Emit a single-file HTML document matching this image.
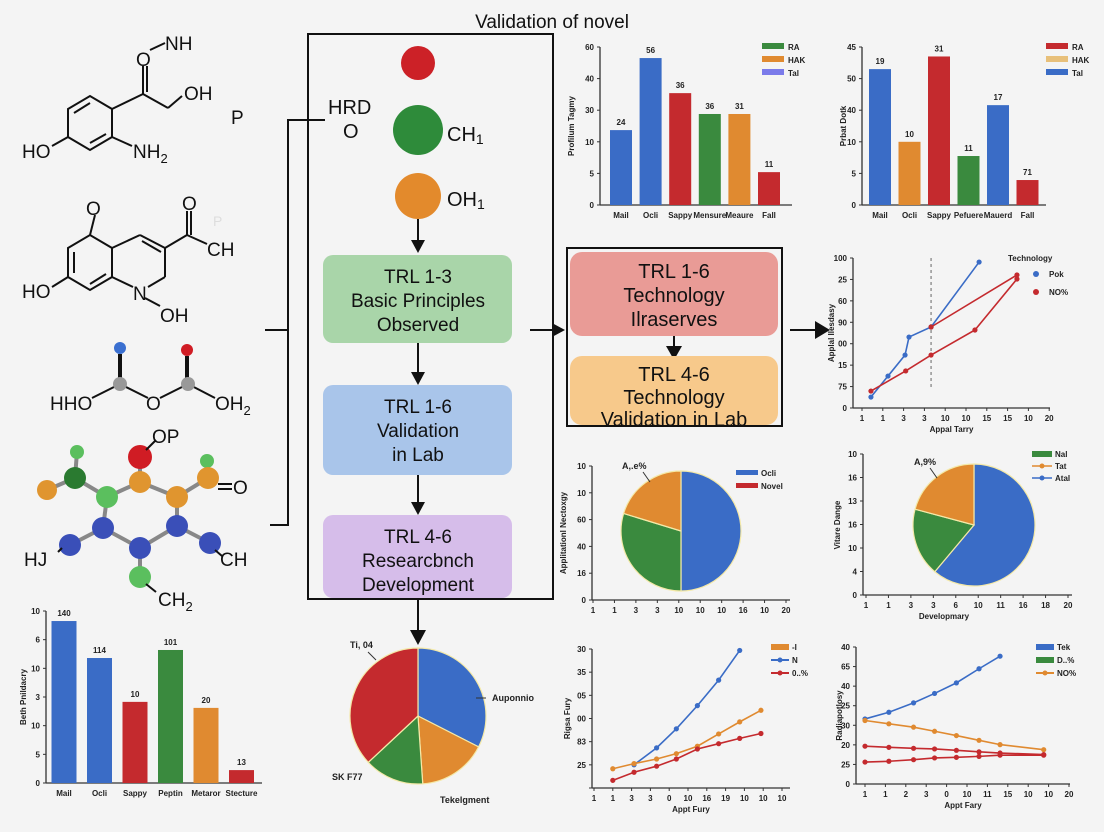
<!DOCTYPE html>
<html><head><meta charset="utf-8"><style>
html,body{margin:0;padding:0;background:#f4f4f4;}
svg{display:block;font-family:"Liberation Sans",sans-serif;}
</style></head><body>
<svg id="s" width="1104" height="832" viewBox="0 0 1104 832" xmlns="http://www.w3.org/2000/svg">
<rect width="1104" height="832" fill="#f4f4f4"/>
<text x="552" y="28" text-anchor="middle" font-size="19" fill="#111">Validation of novel</text>

<g stroke="#111" stroke-width="2" fill="none">
<polygon points="68,109 90,96 112,109 112,137 90,150 68,137"/>
<line x1="74" y1="113" x2="90" y2="103"/><line x1="106" y1="134" x2="90" y2="143"/>
<line x1="112" y1="109" x2="143" y2="94"/><line x1="143" y1="94" x2="143" y2="66"/><line x1="147" y1="92" x2="147" y2="66"/>
<line x1="150" y1="50" x2="165" y2="43"/><line x1="143" y1="94" x2="168" y2="108"/><line x1="168" y1="108" x2="182" y2="96"/>
<line x1="68" y1="137" x2="52" y2="146"/><line x1="112" y1="137" x2="132" y2="146"/>
</g>
<g font-size="19" fill="#111">
<text x="22" y="158">HO</text><text x="133" y="158">NH<tspan font-size="13" dy="5">2</tspan></text>
<text x="136" y="66">O</text><text x="165" y="50">NH</text><text x="184" y="100">OH</text><text x="231" y="124">P</text>
</g>

<g stroke="#111" stroke-width="2" fill="none">
<polygon points="68,248 90,235 112,248 112,277 90,290 68,277"/>
<line x1="74" y1="252" x2="74" y2="273"/><line x1="90" y1="284" x2="106" y2="274"/>
<line x1="112" y1="248" x2="140" y2="235"/><line x1="140" y1="235" x2="165" y2="248"/><line x1="142" y1="241" x2="161" y2="252"/>
<line x1="165" y1="248" x2="165" y2="277"/><line x1="165" y1="277" x2="148" y2="287"/><line x1="112" y1="277" x2="133" y2="287"/>
<line x1="90" y1="235" x2="95" y2="215"/><line x1="165" y1="248" x2="187" y2="235"/><line x1="187" y1="235" x2="187" y2="211"/><line x1="191" y1="235" x2="191" y2="211"/>
<line x1="187" y1="235" x2="207" y2="244"/><line x1="68" y1="277" x2="52" y2="287"/><line x1="145" y1="298" x2="160" y2="306"/>
</g>
<g font-size="19" fill="#111">
<text x="86" y="215">O</text><text x="22" y="298">HO</text><text x="133" y="300">N</text><text x="160" y="322">OH</text>
<text x="182" y="210">O</text><text x="207" y="256">CH</text><text x="213" y="226" font-size="14" fill="#ddd">P</text>
</g>

<g>
<line x1="120" y1="354" x2="120" y2="378" stroke="#111" stroke-width="4"/><line x1="187" y1="356" x2="187" y2="378" stroke="#111" stroke-width="4"/>
<polyline points="92,398 120,384 148,398" stroke="#111" stroke-width="2" fill="none"/>
<polyline points="160,398 188,384 215,398" stroke="#111" stroke-width="2" fill="none"/>
<circle cx="120" cy="348" r="6" fill="#3a6fd0"/><circle cx="187" cy="350" r="6" fill="#d01c24"/>
<circle cx="120" cy="384" r="7" fill="#999"/><circle cx="188" cy="384" r="7" fill="#999"/>
<g font-size="19" fill="#111"><text x="50" y="410">HHO</text><text x="146" y="410">O</text><text x="215" y="410">OH<tspan font-size="13" dy="5">2</tspan></text></g>
</g>

<g>
<g stroke="#888" stroke-width="4">
<line x1="47" y1="490" x2="75" y2="478"/><line x1="75" y1="478" x2="107" y2="497"/><line x1="107" y1="497" x2="140" y2="482"/>
<line x1="140" y1="482" x2="177" y2="497"/><line x1="177" y1="497" x2="208" y2="478"/><line x1="107" y1="497" x2="103" y2="528"/>
<line x1="177" y1="497" x2="177" y2="526"/><line x1="103" y1="528" x2="70" y2="545"/><line x1="103" y1="528" x2="140" y2="548"/>
<line x1="140" y1="548" x2="177" y2="526"/><line x1="177" y1="526" x2="210" y2="543"/><line x1="140" y1="548" x2="140" y2="577"/>
<line x1="140" y1="457" x2="140" y2="482"/><line x1="75" y1="478" x2="77" y2="452"/>
</g>
<circle cx="77" cy="452" r="7" fill="#5bbf5e"/><circle cx="207" cy="461" r="7" fill="#5bbf5e"/>
<circle cx="47" cy="490" r="10" fill="#e0952f"/><circle cx="75" cy="478" r="11" fill="#2a7a30"/>
<circle cx="140" cy="457" r="12" fill="#d01c24"/><circle cx="140" cy="482" r="11" fill="#e0952f"/>
<circle cx="107" cy="497" r="11" fill="#5bbf5e"/><circle cx="177" cy="497" r="11" fill="#e0952f"/><circle cx="208" cy="478" r="11" fill="#e0952f"/>
<circle cx="103" cy="528" r="11" fill="#3a4fb8"/><circle cx="177" cy="526" r="11" fill="#3a4fb8"/><circle cx="70" cy="545" r="11" fill="#3a4fb8"/>
<circle cx="140" cy="548" r="11" fill="#3a4fb8"/><circle cx="210" cy="543" r="11" fill="#3a4fb8"/><circle cx="140" cy="577" r="11" fill="#5bbf5e"/>
<g stroke="#111" stroke-width="2" fill="none"><line x1="146" y1="450" x2="156" y2="440"/><line x1="218" y1="484" x2="232" y2="484"/><line x1="218" y1="489" x2="232" y2="489"/><line x1="58" y1="552" x2="62" y2="548"/><line x1="215" y1="550" x2="222" y2="556"/><line x1="146" y1="584" x2="156" y2="592"/></g>
<g font-size="19" fill="#111"><text x="152" y="443">OP</text><text x="233" y="494">O</text><text x="24" y="566">HJ</text><text x="220" y="566">CH</text><text x="158" y="606">CH<tspan font-size="13" dy="5">2</tspan></text></g>
</g>

<g stroke="#111" stroke-width="2" fill="none">
<polyline points="325,120 288,120 288,525 270,525"/><line x1="265" y1="330" x2="288" y2="330"/>
</g>

<g>
<rect x="308" y="34" width="245" height="565" fill="none" stroke="#111" stroke-width="2"/>
<circle cx="418" cy="63" r="17" fill="#cc2127"/>
<circle cx="418" cy="130" r="25" fill="#2e8b3a"/>
<circle cx="418" cy="196" r="23" fill="#e38a2c"/>
<g font-size="20" fill="#111"><text x="328" y="114">HRD</text><text x="343" y="138">O</text><text x="447" y="141">CH<tspan font-size="14" dy="3">1</tspan></text><text x="447" y="206">OH<tspan font-size="14" dy="3">1</tspan></text></g>
<g stroke="#111" stroke-width="2"><line x1="418" y1="219" x2="418" y2="240"/><line x1="418" y1="343" x2="418" y2="372"/><line x1="418" y1="475" x2="418" y2="502"/><line x1="418" y1="599" x2="418" y2="632"/></g>
<g fill="#111"><polygon points="411,240 425,240 418,253"/><polygon points="411,372 425,372 418,385"/><polygon points="411,502 425,502 418,515"/><polygon points="410,630 426,630 418,645"/></g>
<rect x="323" y="255" width="189" height="88" rx="10" fill="#a9d5a9"/>
<g font-size="19" fill="#111" text-anchor="middle"><text x="418" y="283">TRL 1-3</text><text x="418" y="307">Basic Principles</text><text x="418" y="331">Observed</text></g>
<rect x="323" y="385" width="189" height="90" rx="10" fill="#a9c5ea"/>
<g font-size="19" fill="#111" text-anchor="middle"><text x="418" y="413">TRL 1-6</text><text x="418" y="437">Validation</text><text x="418" y="461">in Lab</text></g>
<rect x="323" y="515" width="189" height="83" rx="10" fill="#d6bdea"/>
<g font-size="19" fill="#111" text-anchor="middle"><text x="418" y="543">TRL 4-6</text><text x="418" y="567">Researcbnch</text><text x="418" y="591">Development</text></g>
</g>

<g>
<line x1="530" y1="330" x2="552" y2="330" stroke="#111" stroke-width="2"/><polygon points="552,323 552,337 565,330" fill="#111"/>
<rect x="567" y="248" width="215" height="178" fill="none" stroke="#111" stroke-width="2"/>
<rect x="570" y="252" width="208" height="84" rx="12" fill="#e99b96"/>
<g font-size="20" fill="#111" text-anchor="middle"><text x="674" y="278">TRL 1-6</text><text x="674" y="302">Technology</text><text x="674" y="326">Ilraserves</text></g>
<line x1="674" y1="336" x2="674" y2="348" stroke="#111" stroke-width="2"/><polygon points="666,346 682,346 674,360" fill="#111"/>
<rect x="570" y="356" width="208" height="69" rx="12" fill="#f7c98b"/>
<g font-size="20" fill="#111" text-anchor="middle"><text x="674" y="381">TRL 4-6</text><text x="674" y="404">Technology</text><text x="674" y="426">Validation in Lab</text></g>
<line x1="790" y1="330" x2="815" y2="330" stroke="#111" stroke-width="2"/><polygon points="815,321 815,339 830,330" fill="#111"/>
</g>
<g id="charts"></g>
</svg>
<script>
// ---- chart data ----
const barCatsA = ["Mail","Ocli","Sappy","Mensure","Meaure","Fall"];
const barValsA = [23.7,46.5,35.4,28.8,28.8,10.4];
const barLblA = ["24","56","36","36","31","11"];
const barTicksA = ["0","5","10","30","40","60"];
const barCatsB = ["Mail","Ocli","Sappy","Pefuere","Mauerd","Fall"];
const barValsB = [43,20,47,15.5,31.6,7.9];
const barLblB = ["19","10","31","11","17","71"];
const barTicksB = ["0","5","10","40","50","45","40"];
const barCatsC = ["Mail","Ocli","Sappy","Peptin","Metaror","Stecture"];
const barValsC = [5.65,4.36,2.83,4.64,2.62,0.45];
const barLblC = ["140","114","10","101","20","13"];
const barTicksC = ["0","5","10","3","10","6","10"];
const lineTicksX1 = ["1","1","3","3","10","10","15","15","10","20"];
const lineTicksY1 = ["0","75","15","00","90","60","25","100"];
const line1BlueX = [0.43,1.25,2.07,2.26,3.32,5.63];
const line1BlueY = [7.3,21.3,35.3,47.3,54,97.3];
const line1RedAX = [0.43,2.1,3.32,5.43,7.45];
const line1RedAY = [11.3,24.7,35.3,52,86];
const line1RedBX = [3.32,7.45];
const line1RedBY = [54,88.7];
const pieAVals = [180,107,73];
const pieBVals = [220,65,75];
const pieCVals = [117,59,51,133];
const pieTicksXA = ["1","1","3","3","10","10","10","16","10","20"];
const pieTicksYA = ["0","16","40","60","10","10"];
const pieTicksXB = ["1","1","3","3","6","10","11","16","18","20"];
const pieTicksYB = ["0","4","10","16","13","16","10"];
const line2TicksX = ["1","1","3","3","0","10","16","19","10","10","10"];
const line2TicksY = ["","25","83","00","05","35","30"];
const line2BlueX = [2.13,3.33,4.38,5.5,6.63,7.75];
const line2BlueY = [1.0,1.73,2.55,3.55,4.65,5.93];
const line2OrangeX = [1,2.13,3.33,4.38,5.5,6.63,7.75,8.88];
const line2OrangeY = [0.83,1.05,1.25,1.48,1.8,2.33,2.85,3.35];
const line2RedX = [1,2.13,3.33,4.38,5.5,6.63,7.75,8.88];
const line2RedY = [0.33,0.68,0.94,1.25,1.68,1.91,2.14,2.35];
const line3TicksX = ["1","1","2","3","0","10","11","15","10","10","20"];
const line3TicksY = ["0","25","20","30","25","40","65","40"];
const line3BlueX = [0,1.17,2.38,3.41,4.48,5.59,6.62];
const line3BlueY = [3.32,3.66,4.14,4.62,5.16,5.88,6.52];
const line3OrangeX = [0,1.17,2.38,3.41,4.48,5.59,6.62,8.76];
const line3OrangeY = [3.24,3.07,2.9,2.69,2.47,2.23,2.01,1.75];
const line3RedAY = [1.93,1.87,1.82,1.79,1.72,1.64,1.58,1.5];
const line3RedBY = [1.12,1.16,1.24,1.33,1.36,1.41,1.47,1.47];

const NS="http://www.w3.org/2000/svg";
const root=document.getElementById('charts');
function mk(tag,attrs,parent,txt){const e=document.createElementNS(NS,tag);for(const k in attrs)e.setAttribute(k,attrs[k]);if(txt!==undefined)e.textContent=txt;(parent||root).appendChild(e);return e;}
function grp(name){const g=mk('g',{});return g;}
function axes(g,x0,x1,y0,y1){mk('line',{x1:x0,y1:y1,x2:x0,y2:y0,stroke:'#333','stroke-width':1.3},g);mk('line',{x1:x0,y1:y0,x2:x1,y2:y0,stroke:'#333','stroke-width':1.3},g);}
function yTicks(g,x0,y0,y1,labels){const n=labels.length-1;labels.forEach((l,i)=>{const y=y0-(y0-y1)*i/n;mk('line',{x1:x0-3,y1:y,x2:x0,y2:y,stroke:'#333'},g);mk('text',{x:x0-6,y:y+3,'font-size':8,'text-anchor':'end',fill:'#222','font-weight':'bold'},g,l);});}
function xTicks(g,xa,xb,y0,labels){const n=labels.length-1;labels.forEach((l,i)=>{const x=xa+(xb-xa)*i/n;mk('line',{x1:x,y1:y0,x2:x,y2:y0+3,stroke:'#333'},g);mk('text',{x:x,y:y0+13,'font-size':8,'text-anchor':'middle',fill:'#222','font-weight':'bold'},g,l);});}
function ytitle(g,x,y,t){mk('text',{x:x,y:y,'font-size':8,'text-anchor':'middle',fill:'#222','font-weight':'bold',transform:`rotate(-90 ${x} ${y})`},g,t);}

function barChart(name,cats,vals,lbls,ticks,o){
  const g=grp(name);
  const ys=v=>o.y0-(o.y0-o.y1)*v/o.max;
  const xs=i=>o.xa+i*o.step;
  const colors=o.colors;
  axes(g,o.x0,o.x1,o.y0,o.y1);yTicks(g,o.x0,o.y0,o.y1,ticks);
  cats.forEach((c,i)=>{
    const r=mk('rect',{x:xs(i)-o.w/2,y:ys(vals[i]),width:o.w,height:o.y0-ys(vals[i]),fill:colors[i]},g);
    
    
    mk('text',{x:xs(i),y:ys(vals[i])-5,'font-size':8,'text-anchor':'middle',fill:'#222','font-weight':'bold'},g,lbls[i]);
    mk('text',{x:xs(i),y:o.y0+13,'font-size':8,'text-anchor':'middle',fill:'#222','font-weight':'bold'},g,c);
  });
  ytitle(g,o.tx,(o.y0+o.y1)/2,o.title);
  return g;
}
const B='#3a6cc6',R='#c42a2e',G='#3a8a3e',O='#e08a30';
const gA=barChart('bar-chart-top-middle',barCatsA,barValsA,barLblA,barTicksA,{x0:600,x1:792,y0:205,y1:47,max:50,xa:621,step:29.6,w:22,colors:[B,B,R,G,O,R],tx:574,title:'Profilum Tagmy'});
[['RA',G,47],['HAK',O,60],['Tal',"#7b7bea",73]].forEach(([t,c,y])=>{mk('rect',{x:762,y:y-4,width:22,height:6,fill:c},gA);mk('text',{x:788,y:y+3,'font-size':8,fill:'#222','font-weight':'bold'},gA,t);});
const gB=barChart('bar-chart-top-right',barCatsB,barValsB,barLblB,barTicksB.slice(0,6),{x0:862,x1:1046,y0:205,y1:47,max:50,xa:880,step:29.5,w:22,colors:[B,O,R,G,B,R],tx:846,title:'Prbat Dotk'});
[['RA',R,47],['HAK',"#e8c07a",60],['Tal',B,73]].forEach(([t,c,y])=>{mk('rect',{x:1046,y:y-4,width:22,height:6,fill:c},gB);mk('text',{x:1072,y:y+3,'font-size':8,fill:'#222','font-weight':'bold'},gB,t);});
barChart('bar-chart-bottom-left',barCatsC,barValsC,barLblC,barTicksC,{x0:46,x1:262,y0:783,y1:611,max:6,xa:64,step:35.5,w:25,colors:[B,B,R,G,O,R],tx:26,title:'Beth Pnildacry'});

function lineChart(name,o,ticksX,ticksY,series,legend){
  const g=grp(name);
  const xs=v=>o.xa+v*o.xstep, ys=v=>o.y0-v*o.ystep;
  axes(g,o.x0,o.x1,o.y0,o.y1);yTicks(g,o.x0,o.y0,o.y1,ticksY);xTicks(g,o.xa,o.xa+o.xstep*(ticksX.length-1),o.y0,ticksX);
  if(o.dash!==undefined){mk('line',{x1:xs(o.dash),y1:o.y1,x2:xs(o.dash),y2:o.y0-18,stroke:'#666','stroke-dasharray':'3,3'},g);}
  series.forEach(s=>{
    const pts=s.x.map((x,i)=>xs(x)+','+ys(s.y[i])).join(' ');
    const pl=mk('polyline',{points:pts,fill:'none',stroke:s.c,'stroke-width':1.6},g);
    
    
    s.x.forEach((x,i)=>mk('circle',{cx:xs(x),cy:ys(s.y[i]),r:2.6,fill:s.c},g));
  });
  ytitle(g,o.tx,(o.y0+o.y1)/2,o.ytitle);
  mk('text',{x:(o.x0+o.x1)/2,y:o.y0+24,'font-size':8,'text-anchor':'middle',fill:'#222','font-weight':'bold'},g,o.xtitle);
  legend.forEach(([t,c,y,type])=>{
    if(type==='dot'){mk('circle',{cx:o.lx+8,cy:y,r:3,fill:c},g);}
    else if(type==='bar'){mk('rect',{x:o.lx,y:y-3,width:18,height:6,fill:c},g);}
    else {mk('line',{x1:o.lx,y1:y,x2:o.lx+18,y2:y,stroke:c,'stroke-width':2},g);mk('circle',{cx:o.lx+9,cy:y,r:2.5,fill:c},g);}
    mk('text',{x:o.lx+21,y:y+3,'font-size':8,fill:'#222','font-weight':'bold'},g,t);
  });
  return g;
}
const gL1=lineChart('line-chart-right',{x0:853,x1:1050,y0:408,y1:258,xa:862,xstep:20.8,ystep:1.5,dash:3.32,tx:834,ytitle:'Applal Ilesdasy',xtitle:'Appal Tarry',lx:1028},lineTicksX1,lineTicksY1,
 [{n:'pok',c:B,x:line1BlueX,y:line1BlueY},{n:'no-a',c:R,x:line1RedAX,y:line1RedAY},{n:'no-b',c:R,x:line1RedBX,y:line1RedBY}],
 [['Pok',B,274,'dot'],['NO%',R,292,'dot']]);
mk('text',{x:1008,y:261,'font-size':8,fill:'#222','font-weight':'bold'},gL1,'Technology');
lineChart('line-chart-bottom-middle',{x0:592,x1:790,y0:788,y1:649,xa:594,xstep:18.8,ystep:23.2,tx:570,ytitle:'Rigsa Fury',xtitle:'Appt Fury',lx:771},line2TicksX,line2TicksY,
 [{n:'n',c:B,x:line2BlueX,y:line2BlueY},{n:'i',c:O,x:line2OrangeX,y:line2OrangeY},{n:'o',c:R,x:line2RedX,y:line2RedY}],
 [['-I',O,647,'bar'],['N',B,660,'line'],['0..%',R,673,'line']]);
lineChart('line-chart-bottom-right',{x0:856,x1:1070,y0:784,y1:647,xa:865,xstep:20.4,ystep:19.6,tx:842,ytitle:'Radiapotlosy',xtitle:'Appt Fary',lx:1036},line3TicksX,line3TicksY,
 [{n:'tek',c:B,x:line3BlueX,y:line3BlueY},{n:'no',c:O,x:line3OrangeX,y:line3OrangeY},{n:'red-a',c:R,x:line3OrangeX,y:line3RedAY},{n:'red-b',c:R,x:line3OrangeX,y:line3RedBY}],
 [['Tek',B,647,'bar'],['D..%',G,660,'bar'],['NO%',O,673,'line']]);

function pie(name,cx,cy,r,vals,colors,g){
  const tot=vals.reduce((a,b)=>a+b,0);let a=-Math.PI/2;
  vals.forEach((v,i)=>{const b=a+v/tot*2*Math.PI;
    const p=mk('path',{d:`M${cx},${cy} L${cx+r*Math.cos(a)},${cy+r*Math.sin(a)} A${r},${r} 0 ${b-a>Math.PI?1:0} 1 ${cx+r*Math.cos(b)},${cy+r*Math.sin(b)} Z`,fill:colors[i],stroke:'#f4e9a8','stroke-width':1.2},g);
    
    
    a=b;});
}
const gP1=grp('pie-chart-middle');
axes(gP1,592,790,600,466);yTicks(gP1,592,600,466,pieTicksYA);xTicks(gP1,593,786,600,pieTicksXA);
pie('pie-a',681,531,60,pieAVals,[B,G,O],gP1);ytitle(gP1,566,533,'Applitationl Nectoxgy');
mk('text',{x:622,y:469,'font-size':9,fill:'#222','font-weight':'bold'},gP1,'A,.e%');
mk('line',{x1:643,y1:472,x2:650,y2:482,stroke:'#333'},gP1);
[['Ocli',B,473],['Novel',R,486]].forEach(([t,c,y])=>{mk('rect',{x:736,y:y-3,width:22,height:5,fill:c},gP1);mk('text',{x:761,y:y+3,'font-size':8,fill:'#222','font-weight':'bold'},gP1,t);});
const gP2=grp('pie-chart-right');
axes(gP2,863,1072,595,454);yTicks(gP2,863,595,454,pieTicksYB);xTicks(gP2,866,1068,595,pieTicksXB);
pie('pie-b',974,525,61,pieBVals,[B,G,O],gP2);ytitle(gP2,840,525,'Vitare Dange');
mk('text',{x:944,y:619,'font-size':8,'text-anchor':'middle',fill:'#222','font-weight':'bold'},gP2,'Developmary');
mk('text',{x:914,y:465,'font-size':9,fill:'#222','font-weight':'bold'},gP2,'A,9%');
mk('line',{x1:930,y1:468,x2:937,y2:478,stroke:'#333'},gP2);
[['Nal',G,454,'bar'],['Tat',O,466,'line'],['Atal',B,478,'line']].forEach(([t,c,y,ty])=>{if(ty==='bar')mk('rect',{x:1032,y:y-3,width:20,height:6,fill:c},gP2);else{mk('line',{x1:1032,y1:y,x2:1052,y2:y,stroke:c,'stroke-width':1.5},gP2);mk('circle',{cx:1042,cy:y,r:2.5,fill:c},gP2);}mk('text',{x:1055,y:y+3,'font-size':8,fill:'#222','font-weight':'bold'},gP2,t);});
const gP3=grp('pie-chart-bottom');
pie('pie-c',418,716,68,pieCVals,[B,O,G,R],gP3);
[['Ti, 04',350,648],['Auponnio',492,701],['SK F77',332,780],['Tekelgment',440,803]].forEach(([t,x,y])=>mk('text',{x:x,y:y,'font-size':9,fill:'#222','font-weight':'bold'},gP3,t));
mk('line',{x1:476,y1:698,x2:486,y2:698,stroke:'#333'},gP3);
mk('line',{x1:368,y1:652,x2:376,y2:660,stroke:'#333'},gP3);
</script>
</body></html>
